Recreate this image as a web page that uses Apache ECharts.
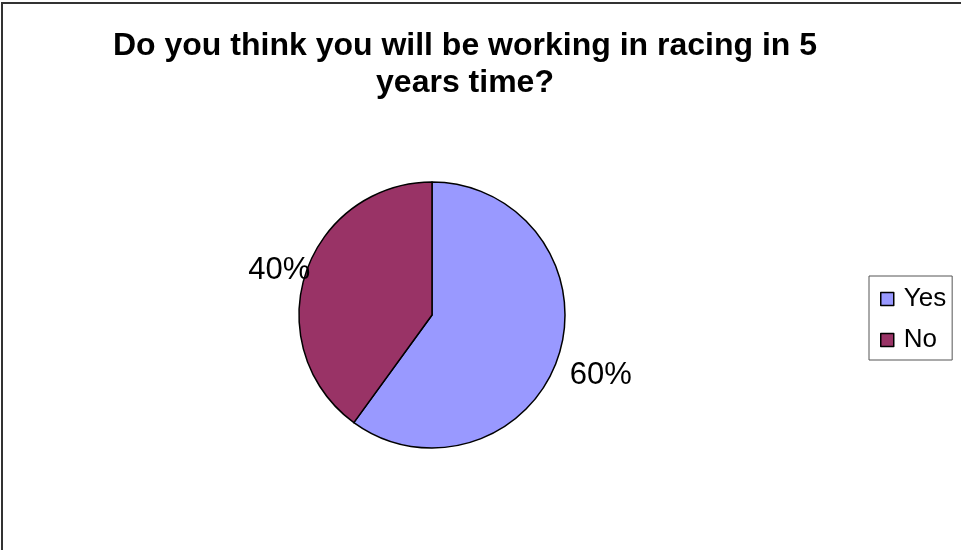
<!DOCTYPE html>
<html>
<head>
<meta charset="utf-8">
<title>Working in racing in 5 years</title>
<script src="https://cdn.jsdelivr.net/npm/echarts@6/dist/echarts.min.js"></script>
<style>
  html, body { margin: 0; padding: 0; background: #fff; }
  #chart { width: 961px; height: 550px; }
</style>
</head>
<body>
<div id="chart"></div>
<script>
// Survey answers
const categories = ['Yes', 'No'];
const shares = [60, 40];
const sliceColors = ['#9999FF', '#993366'];
const titleText = 'Do you think you will be working in racing in 5\nyears time?';

const FONT = '"Liberation Sans", Arial, sans-serif';

const pieData = categories.map((name, i) => ({
  name: name,
  value: shares[i],
  itemStyle: { color: sliceColors[i] }
}));

const chart = echarts.init(document.getElementById('chart'), null, { renderer: 'canvas' });

chart.setOption({
  backgroundColor: '#ffffff',
  animation: false,
  legend: {
    data: categories,
    orient: 'vertical',
    left: 869,
    top: 276,
    padding: [10, 6, 7, 11],
    itemGap: 15,
    itemWidth: 13,
    itemHeight: 13,
    icon: 'rect',
    borderColor: '#555',
    borderWidth: 1,
    itemStyle: { borderColor: '#000', borderWidth: 1.5 },
    textStyle: {
      fontFamily: FONT,
      fontSize: 26,
      color: '#000',
      padding: [0, 0, 0, 5]
    }
  },
  graphic: [
    {
      // outer frame of the chart area
      type: 'rect',
      silent: true,
      shape: { x: 2, y: 3, width: 1200, height: 800 },
      style: { fill: 'none', stroke: '#333', lineWidth: 2 }
    },
    {
      // chart title, two centred lines
      type: 'text',
      silent: true,
      x: 465,
      y: 28,
      style: {
        text: titleText,
        align: 'center',
        verticalAlign: 'top',
        fontFamily: FONT,
        fontSize: 32,
        fontWeight: 'bold',
        lineHeight: 37,
        fill: '#000'
      }
    }
  ],
  series: [
    {
      type: 'pie',
      center: [432, 315],
      radius: 133,
      startAngle: 90,
      clockwise: true,
      label: { show: false },
      labelLine: { show: false },
      itemStyle: { borderColor: '#000', borderWidth: 1.5 },
      emphasis: { disabled: true },
      data: pieData
    },
    {
      // percentage labels on a transparent ring just outside the pie
      type: 'pie',
      silent: true,
      center: [440, 323],
      radius: [157, 175],
      startAngle: 90,
      clockwise: true,
      avoidLabelOverlap: false,
      legendHoverLink: false,
      itemStyle: { color: 'rgba(0,0,0,0)', borderWidth: 0 },
      label: {
        show: true,
        position: 'inside',
        formatter: '{d}%',
        fontFamily: FONT,
        fontSize: 31,
        color: '#000'
      },
      labelLine: { show: false },
      emphasis: { disabled: true },
      data: categories.map((name, i) => ({ name: name, value: shares[i] }))
    }
  ]
});
</script>
</body>
</html>
